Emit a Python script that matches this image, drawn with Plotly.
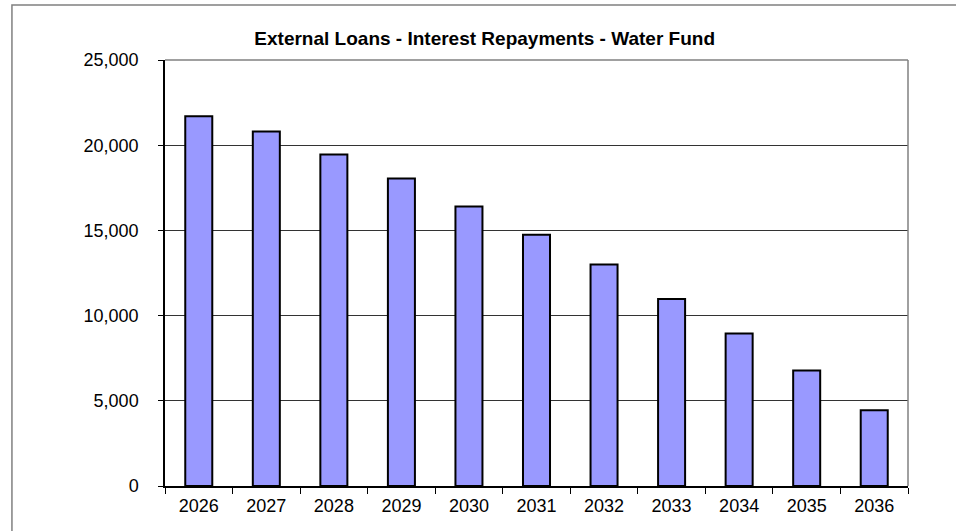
import plotly.graph_objects as go

# Data
years = ["2026", "2027", "2028", "2029", "2030", "2031", "2032", "2033", "2034", "2035", "2036"]
interest = [21700, 20800, 19450, 18050, 16400, 14750, 13000, 10980, 8950, 6780, 4450]
y_ticks = [0, 5000, 10000, 15000, 20000, 25000]
y_tick_labels = ["0", "5,000", "10,000", "15,000", "20,000", "25,000"]

fig = go.Figure(data=[
    go.Bar(x=years, y=interest,
           marker=dict(color="#9999FF", line=dict(color="black", width=2)))
])

fig.update_layout(
    width=956, height=531,
    margin=dict(l=165, r=48, t=60, b=45),
    paper_bgcolor="white", plot_bgcolor="white",
    bargap=0.6,
    showlegend=False,
    font=dict(family="Liberation Sans, Arial, sans-serif", size=18, color="black"),
    title=dict(text="<b>External Loans - Interest Repayments - Water Fund</b>",
               x=0.507, xanchor="center", y=0.928, yanchor="middle",
               font=dict(size=19, color="black")),
)

fig.update_xaxes(
    type="category", showline=True, linecolor="black", linewidth=1.5,
    ticks="outside", tickson="boundaries", ticklen=6, tickcolor="black",
    ticklabelstandoff=3, showgrid=False,
)
fig.update_yaxes(
    range=[0, 25000], tickvals=y_ticks, ticktext=y_tick_labels,
    showline=True, linecolor="black", linewidth=1.5,
    ticks="outside", ticklen=5, tickcolor="black", ticklabelstandoff=16,
    showgrid=True, gridcolor="#333333", gridwidth=1, zeroline=False,
)

# grey top/right edge of the plot area
fig.add_shape(type="line", xref="paper", yref="paper", x0=0, x1=1, y0=1, y1=1,
              line=dict(color="#808080", width=1.5))
fig.add_shape(type="line", xref="paper", yref="paper", x0=1, x1=1, y0=0, y1=1,
              line=dict(color="#808080", width=1.5))
# outer chart border
fig.add_shape(type="rect", xref="paper", yref="paper",
              x0=-0.206, x1=1.07, y0=-0.12, y1=1.129,
              line=dict(color="#808080", width=1.5))

fig.write_html("out.html", config={"displayModeBar": False},
               post_script="document.body.style.margin = '0';")
